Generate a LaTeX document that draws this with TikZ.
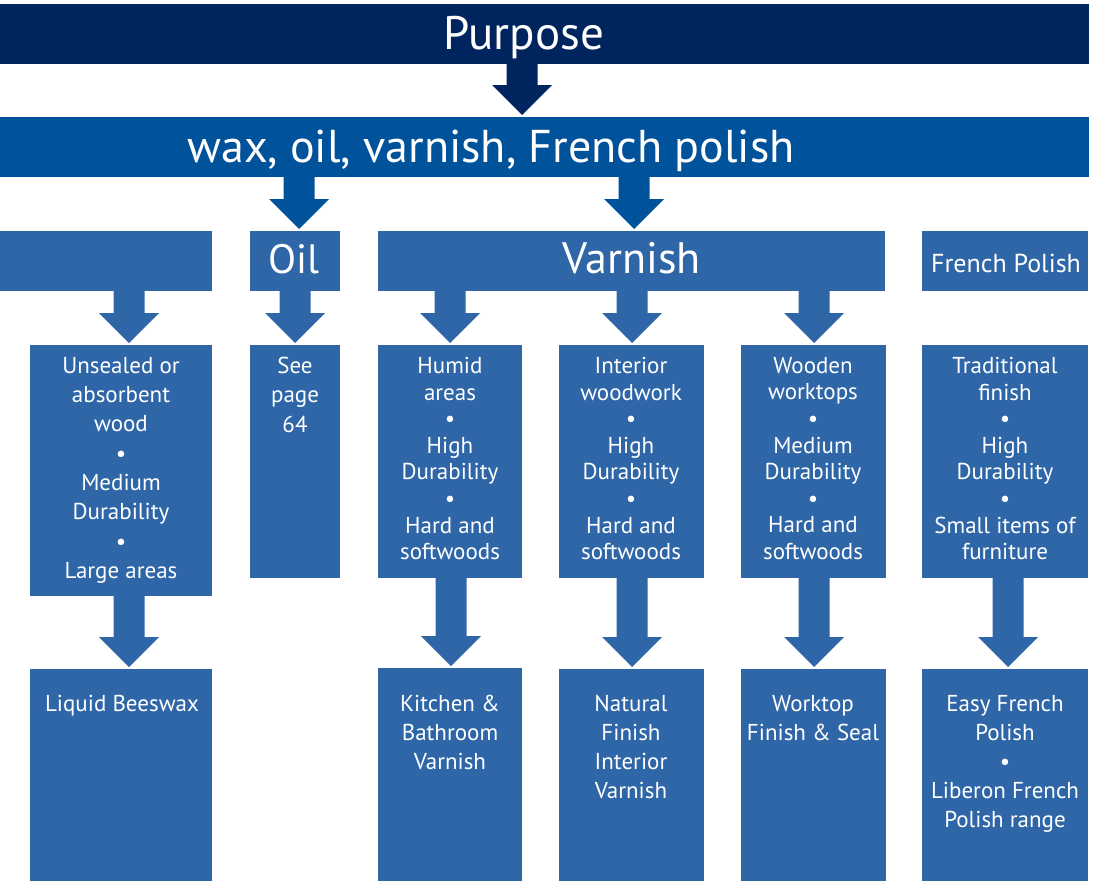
\documentclass[tikz,border=0pt]{standalone}
\usepackage{fontspec}
\setmainfont{PT Sans}
\usetikzlibrary{calc}
\definecolor{navy}{RGB}{0,37,94}
\definecolor{midblue}{RGB}{0,82,155}
\definecolor{boxblue}{RGB}{46,102,168}
\tikzset{
  box/.style={fill=#1, draw=none, inner sep=0pt, outer sep=0pt, anchor=north west},
  ttl/.style={text=white, inner sep=0pt, anchor=base},
  txt/.style={text=white, inner sep=0pt, anchor=north, align=center},
  rowfour/.style={txt, font=\fontsize{23}{29.3}\selectfont},
  rowfourb/.style={txt, font=\fontsize{23}{26.6}\selectfont},
  rowfive/.style={txt, font=\fontsize{23}{29}\selectfont},
}
\newcommand\blockarr[4]{%
  \fill[#1] let \p1=(#3.south), \p2=(#4.north) in
    (#2pt-15.5pt,\y1) -- (#2pt+15.5pt,\y1) -- (#2pt+15.5pt,\y2+32pt) --
    (#2pt+30pt,\y2+32pt) -- (#2pt,\y2+2pt) -- (#2pt-30pt,\y2+32pt) --
    (#2pt-15.5pt,\y2+32pt) -- cycle;}
\begin{document}
\begin{tikzpicture}[x=1pt,y=-1pt]
\useasboundingbox (0,0) rectangle (1095,883);
% bars
\node[box=navy, minimum width=1089pt, minimum height=60pt] (purpose) at (0,4) {};
\node[box=midblue, minimum width=1089pt, minimum height=60pt] (wax) at (0,117) {};
% row 3
\node[box=boxblue, minimum width=212pt, minimum height=60pt] (boxA) at (0,231) {};
\node[box=boxblue, minimum width=90pt, minimum height=60pt] (oil) at (250,231) {};
\node[box=boxblue, minimum width=507pt, minimum height=60pt] (varnish) at (378,231) {};
\node[box=boxblue, minimum width=166pt, minimum height=60pt] (fp) at (922,231) {};
% row 4
\node[box=boxblue, minimum width=182pt, minimum height=251pt] (unsealed) at (30,345) {};
\node[box=boxblue, minimum width=90pt, minimum height=233pt] (seepage) at (250,345) {};
\node[box=boxblue, minimum width=144pt, minimum height=233pt] (humid) at (378,345) {};
\node[box=boxblue, minimum width=145pt, minimum height=233pt] (interior) at (559,345) {};
\node[box=boxblue, minimum width=145pt, minimum height=233pt] (wooden) at (741,345) {};
\node[box=boxblue, minimum width=166pt, minimum height=233pt] (trad) at (922,345) {};
% row 5
\node[box=boxblue, minimum width=182pt, minimum height=212pt] (liquid) at (30,669) {};
\node[box=boxblue, minimum width=144pt, minimum height=213pt] (kitchen) at (378,668) {};
\node[box=boxblue, minimum width=145pt, minimum height=212pt] (natural) at (559,669) {};
\node[box=boxblue, minimum width=145pt, minimum height=212pt] (worktop) at (741,669) {};
\node[box=boxblue, minimum width=166pt, minimum height=212pt] (easy) at (922,669) {};
% titles
\node[ttl, font=\fontsize{47}{56}\selectfont] (purposet) at (524,49) {Purpose};
\node[ttl, font=\fontsize{46}{54}\selectfont] (waxt) at (491,162) {wax, oil, varnish, French polish};
\node[ttl, font=\fontsize{41}{50}\selectfont] (oilt) at (294,273) {Oil};
\node[ttl, font=\fontsize{44}{52}\selectfont] (varnisht) at (632,273) {Varnish};
\node[ttl, font=\fontsize{26}{32}\selectfont] (fpt) at (1006,272) {French Polish};
% row 4 texts
\node[rowfour] (unsealedt) at (121,357) {Unsealed or\\absorbent\\wood\\•\\Medium\\Durability\\•\\Large areas};
\node[rowfour] (seepaget) at (295,357) {See\\page\\64};
\node[rowfourb] (humidt) at (450,357) {Humid\\areas\\•\\High\\Durability\\•\\Hard and\\softwoods};
\node[rowfourb] (interiort) at (631,357) {Interior\\woodwork\\•\\High\\Durability\\•\\Hard and\\softwoods};
\node[rowfourb] (woodent) at (813,357) {Wooden\\worktops\\•\\Medium\\Durability\\•\\Hard and\\softwoods};
\node[rowfourb] (tradt) at (1005,357) {Traditional\\finish\\•\\High\\Durability\\•\\Small items of\\furniture};
% row 5 texts
\node[rowfive] (liquidt) at (122,695) {Liquid Beeswax};
\node[rowfive] (kitchent) at (450,695) {Kitchen \&\\Bathroom\\Varnish};
\node[rowfive] (naturalt) at (631,695) {Natural\\Finish\\Interior\\Varnish};
\node[rowfive] (worktopt) at (813,695) {Worktop\\Finish \& Seal};
\node[rowfive] (easyt) at (1005,695) {Easy French\\Polish\\•\\Liberon French\\Polish range};
% arrows
\blockarr{navy}{522}{purpose}{wax}
\blockarr{midblue}{299}{wax}{oil}
\blockarr{midblue}{634}{wax}{varnish}
\blockarr{boxblue}{129}{boxA}{unsealed}
\blockarr{boxblue}{295}{oil}{seepage}
\blockarr{boxblue}{450}{varnish}{humid}
\blockarr{boxblue}{632}{varnish}{interior}
\blockarr{boxblue}{814}{varnish}{wooden}
\blockarr{boxblue}{129}{unsealed}{liquid}
\blockarr{boxblue}{451}{humid}{kitchen}
\blockarr{boxblue}{632}{interior}{natural}
\blockarr{boxblue}{814}{wooden}{worktop}
\blockarr{boxblue}{1008}{trad}{easy}
\end{tikzpicture}
\end{document}
